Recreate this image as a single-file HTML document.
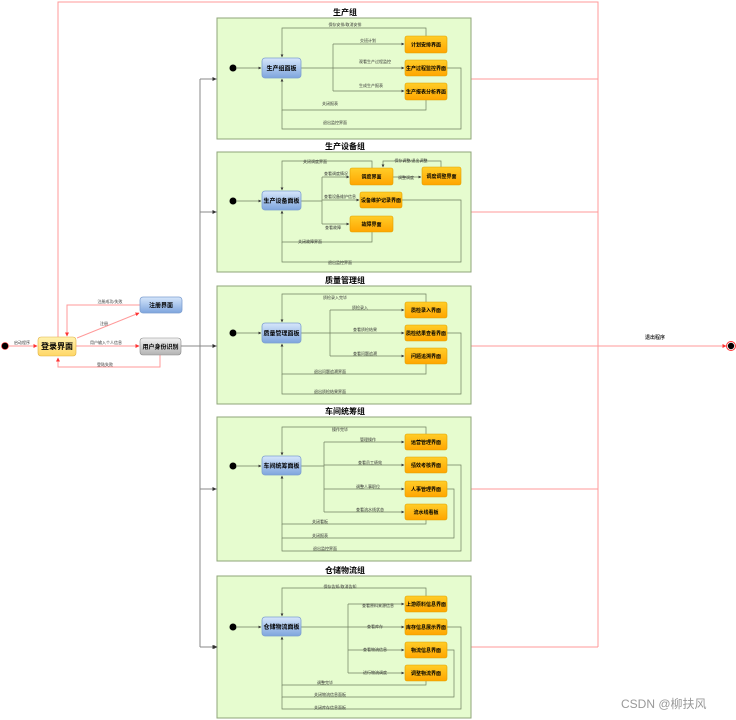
<!DOCTYPE html>
<html><head><meta charset="utf-8"><style>
html,body{margin:0;padding:0;background:#fff}
svg{display:block}
text{font-family:"Liberation Sans","Noto Sans CJK SC",sans-serif}
.g{fill:#e6fccf;stroke:#8fa57a;stroke-width:1}
.t{font-size:8px;font-weight:bold;text-anchor:middle;fill:#000}
.p{fill:url(#bl);stroke:#7e9fd0;stroke-width:.8}
.o{fill:url(#or);stroke:#e0a000;stroke-width:.6}
.pt{font-size:6.5px;font-weight:bold;text-anchor:middle}
.ot{font-size:5px;font-weight:bold;text-anchor:middle}
.l{font-size:4px;text-anchor:middle;fill:#333}
.c{fill:none;stroke:#6f7f60;stroke-width:.7}
.r{fill:none;stroke:#f99;stroke-width:1}
.k{fill:none;stroke:#888;stroke-width:1}
</style></head><body>
<svg width="736" height="720" viewBox="0 0 736 720" xmlns="http://www.w3.org/2000/svg">
<defs>
<linearGradient id="bl" x1="0" y1="0" x2="0" y2="1"><stop offset="0" stop-color="#d6e6fb"/><stop offset="1" stop-color="#7ea5dd"/></linearGradient>
<linearGradient id="or" x1="0" y1="0" x2="0" y2="1"><stop offset="0" stop-color="#ffcd28"/><stop offset="1" stop-color="#ffa500"/></linearGradient>
<linearGradient id="ye" x1="0" y1="0" x2="0" y2="1"><stop offset="0" stop-color="#fff2b0"/><stop offset="1" stop-color="#ffd766"/></linearGradient>
<linearGradient id="gr" x1="0" y1="0" x2="0" y2="1"><stop offset="0" stop-color="#f2f2f2"/><stop offset="1" stop-color="#b3b3b3"/></linearGradient>
<marker id="a" markerWidth="4" markerHeight="4" refX="3.5" refY="2" orient="auto"><path d="M0,0L4,2L0,4z" fill="#333"/></marker>
<marker id="ar" markerWidth="4" markerHeight="4" refX="3.5" refY="2" orient="auto"><path d="M0,0L4,2L0,4z" fill="#f33"/></marker>
</defs>

<!-- red outer lines -->
<path class="r" d="M58,337V2H598V647"/>
<path class="r" d="M471,79H598M471,212H598M471,346H598M471,489H598M471,647H598"/>
<path class="r" d="M598,346H726" marker-end="url(#ar)"/>
<text class="l" x="655" y="339" style="font-size:5px;font-weight:bold">退出程序</text>
<circle cx="731" cy="346" r="4.5" fill="#fff" stroke="#f33" stroke-width="1"/><circle cx="731" cy="346" r="3.2" fill="#000"/>

<!-- groups -->
<rect class="g" x="217" y="18" width="254" height="121"/><text class="t" x="345" y="15">生产组</text>
<rect class="g" x="217" y="152" width="254" height="120"/><text class="t" x="345" y="149">生产设备组</text>
<rect class="g" x="217" y="286" width="254" height="118"/><text class="t" x="345" y="283">质量管理组</text>
<rect class="g" x="217" y="417" width="254" height="144"/><text class="t" x="345" y="414">车间统筹组</text>
<rect class="g" x="217" y="576" width="254" height="142"/><text class="t" x="345" y="573">仓储物流组</text>

<!-- gray dispatch -->
<path class="k" d="M181,346H200"/>
<path class="k" d="M200,79V647"/>
<path class="k" d="M200,79H217M200,212H217M200,346H217M200,489H217M200,647H217" marker-end="url(#a)"/>
<path class="k" d="M200,79H216" marker-end="url(#a)"/><path class="k" d="M200,212H216" marker-end="url(#a)"/><path class="k" d="M200,346H216" marker-end="url(#a)"/><path class="k" d="M200,489H216" marker-end="url(#a)"/><path class="k" d="M200,647H216" marker-end="url(#a)"/>

<!-- login area -->
<circle cx="5" cy="346" r="3.5" fill="#000" stroke="#f33" stroke-width=".6"/>
<path class="r" d="M9,346H37" marker-end="url(#ar)"/><text class="l" x="22" y="344">启动程序</text>
<path class="r" d="M76,346H139" marker-end="url(#ar)"/><text class="l" x="106" y="344">用户输入个人信息</text>
<path class="r" d="M77,338L139,313" marker-end="url(#ar)"/><text class="l" x="104" y="325">注册</text>
<path class="r" d="M140,305H67V336" marker-end="url(#ar)"/><text class="l" x="110" y="303">注册成功/失败</text>
<path class="r" d="M160,355V367H58V358" marker-end="url(#ar)"/><text class="l" x="105" y="366">登陆失败</text>
<rect x="38" y="337" width="38" height="19" rx="3" fill="url(#ye)" stroke="#e0b040" stroke-width=".6"/><text class="pt" x="57" y="349" style="font-size:8px">登录界面</text>
<rect x="140" y="297" width="42" height="16" rx="3" class="p"/><text class="pt" x="161" y="307.5" style="font-size:6px">注册界面</text>
<rect x="140" y="338" width="41" height="17" rx="3" fill="url(#gr)" stroke="#888" stroke-width=".6"/><text class="pt" x="160.5" y="349" style="font-size:6px">用户身份识别</text>

<!-- Group 1 -->
<circle cx="233" cy="68" r="3.5"/>
<path class="c" d="M237,68H261" marker-end="url(#a)"/>
<path class="c" d="M301,68H333M333,44V91"/>
<path class="c" d="M333,44H404" marker-end="url(#a)"/><path class="c" d="M333,68H404" marker-end="url(#a)"/><path class="c" d="M333,91H404" marker-end="url(#a)"/>
<text class="l" x="368" y="42">交班计划</text><text class="l" x="375" y="63">观看生产过程监控</text><text class="l" x="371" y="87">生成生产报表</text>
<path class="c" d="M426,36V28H282V57" marker-end="url(#a)"/><text class="l" x="345" y="26">保存安排/取消安排</text>
<path class="c" d="M426,100V110H282V79" marker-end="url(#a)"/><text class="l" x="330" y="105">关闭报表</text>
<path class="c" d="M447,68H461V129H282V110"/><text class="l" x="335" y="124">退出监控界面</text>
<rect x="262" y="58" width="39" height="20" rx="3" class="p"/><text class="pt" x="281.5" y="70.5" style="font-size:6px">生产组面板</text>
<rect x="405" y="36" width="42" height="17" rx="2" class="o"/><text class="ot" x="426" y="46.5">计划安排界面</text>
<rect x="405" y="60" width="42" height="16" rx="2" class="o"/><text class="ot" x="426" y="70">生产过程监控界面</text>
<rect x="405" y="83" width="42" height="17" rx="2" class="o"/><text class="ot" x="426" y="93.5">生产报表分析界面</text>

<!-- Group 2 -->
<circle cx="233" cy="201" r="3.5"/>
<path class="c" d="M237,201H261" marker-end="url(#a)"/>
<path class="c" d="M301,201H322M322,177V224"/>
<path class="c" d="M322,177H349" marker-end="url(#a)"/><path class="c" d="M322,200H359" marker-end="url(#a)"/><path class="c" d="M322,224H349" marker-end="url(#a)"/>
<text class="l" x="336" y="175">查看调度情况</text><text class="l" x="340" y="198">查看设备维护信息</text><text class="l" x="333" y="229">查看故障</text>
<path class="c" d="M393,177H421" marker-end="url(#a)"/><text class="l" x="406" y="179">调整调度</text>
<path class="c" d="M441,167V161H383V167" marker-end="url(#a)"/><text class="l" x="411" y="162">保存调整/退出调整</text>
<path class="c" d="M372,168V161H282V190" marker-end="url(#a)"/><text class="l" x="315" y="163">关闭调度界面</text>
<path class="c" d="M372,232V242H282V211" marker-end="url(#a)"/><text class="l" x="310" y="243">关闭故障界面</text>
<path class="c" d="M402,200H461V262H282V242"/><text class="l" x="340" y="264">退出监控界面</text>
<rect x="262" y="191" width="39" height="19" rx="3" class="p"/><text class="pt" x="281.5" y="203" style="font-size:6px">生产设备面板</text>
<rect x="350" y="168" width="43" height="17" rx="2" class="o"/><text class="ot" x="371.5" y="178.5">调度界面</text>
<rect x="422" y="167" width="39" height="18" rx="2" class="o"/><text class="ot" x="441.5" y="178">调度调整界面</text>
<rect x="360" y="192" width="42" height="16" rx="2" class="o"/><text class="ot" x="381" y="202">设备维护记录界面</text>
<rect x="350" y="216" width="43" height="16" rx="2" class="o"/><text class="ot" x="371.5" y="226">故障界面</text>

<!-- Group 3 -->
<circle cx="233" cy="333" r="3.5"/>
<path class="c" d="M237,333H261" marker-end="url(#a)"/>
<path class="c" d="M301,333H330M330,310V356"/>
<path class="c" d="M330,310H404" marker-end="url(#a)"/><path class="c" d="M330,333H404" marker-end="url(#a)"/><path class="c" d="M330,356H404" marker-end="url(#a)"/>
<text class="l" x="360" y="309">质检录入</text><text class="l" x="365" y="331">查看质检结果</text><text class="l" x="365" y="355">查看问题追溯</text>
<path class="c" d="M426,302V294H282V322" marker-end="url(#a)"/><text class="l" x="335" y="299">质检录入完毕</text>
<path class="c" d="M426,364V374H282V344" marker-end="url(#a)"/><text class="l" x="330" y="373">退出问题追溯界面</text>
<path class="c" d="M447,333H461V394H282V374"/><text class="l" x="330" y="393">退出质检结果界面</text>
<rect x="262" y="323" width="39" height="20" rx="3" class="p"/><text class="pt" x="281.5" y="335.5" style="font-size:6px">质量管理面板</text>
<rect x="405" y="302" width="42" height="16" rx="2" class="o"/><text class="ot" x="426" y="312">质检录入界面</text>
<rect x="405" y="325" width="42" height="16" rx="2" class="o"/><text class="ot" x="426" y="335">质检结果查看界面</text>
<rect x="405" y="348" width="42" height="16" rx="2" class="o"/><text class="ot" x="426" y="358">问题追溯界面</text>

<!-- Group 4 -->
<circle cx="233" cy="466" r="3.5"/>
<path class="c" d="M237,466H261" marker-end="url(#a)"/>
<path class="c" d="M301,466H324M324,442V512"/>
<path class="c" d="M324,442H404" marker-end="url(#a)"/><path class="c" d="M324,465H404" marker-end="url(#a)"/><path class="c" d="M324,489H404" marker-end="url(#a)"/><path class="c" d="M324,512H404" marker-end="url(#a)"/>
<text class="l" x="368" y="441">管理操作</text><text class="l" x="370" y="464">查看员工绩效</text><text class="l" x="368" y="488">调整人事职位</text><text class="l" x="370" y="511">查看流水线状态</text>
<path class="c" d="M426,434V427H282V455" marker-end="url(#a)"/><text class="l" x="340" y="431">操作完毕</text>
<path class="c" d="M426,520V524H282V476" marker-end="url(#a)"/><text class="l" x="320" y="523">关闭看板</text>
<path class="c" d="M447,489H454V538H282V524"/><text class="l" x="320" y="537">关闭报表</text>
<path class="c" d="M447,465H461V551H282V538"/><text class="l" x="325" y="550">退出监控界面</text>
<rect x="262" y="456" width="39" height="19" rx="3" class="p"/><text class="pt" x="281.5" y="468" style="font-size:6px">车间统筹面板</text>
<rect x="405" y="434" width="42" height="16" rx="2" class="o"/><text class="ot" x="426" y="444">运营管理界面</text>
<rect x="405" y="457" width="42" height="16" rx="2" class="o"/><text class="ot" x="426" y="467">绩效考核界面</text>
<rect x="405" y="481" width="42" height="16" rx="2" class="o"/><text class="ot" x="426" y="491">人事管理界面</text>
<rect x="405" y="504" width="42" height="16" rx="2" class="o"/><text class="ot" x="426" y="514">流水线看板</text>

<!-- Group 5 -->
<circle cx="233" cy="627" r="3.5"/>
<path class="c" d="M237,627H261" marker-end="url(#a)"/>
<path class="c" d="M301,627H348M348,604V673"/>
<path class="c" d="M348,604H404" marker-end="url(#a)"/><path class="c" d="M348,627H404" marker-end="url(#a)"/><path class="c" d="M348,650H404" marker-end="url(#a)"/><path class="c" d="M348,673H404" marker-end="url(#a)"/>
<text class="l" x="378" y="607">查看原料来源信息</text><text class="l" x="375" y="628">查看库存</text><text class="l" x="375" y="651">查看物流信息</text><text class="l" x="375" y="674">进行物流调度</text>
<path class="c" d="M426,596V588H282V616" marker-end="url(#a)"/><text class="l" x="340" y="588">保存告知/取消告知</text>
<path class="c" d="M426,681V685H282V637" marker-end="url(#a)"/><text class="l" x="325" y="684">调整完毕</text>
<path class="c" d="M447,650H454V697H282V685"/><text class="l" x="330" y="696">关闭物流信息面板</text>
<path class="c" d="M447,627H461V709H282V697"/><text class="l" x="330" y="709">关闭库存信息面板</text>
<rect x="262" y="617" width="39" height="19" rx="3" class="p"/><text class="pt" x="281.5" y="629" style="font-size:6px">仓储物流面板</text>
<rect x="405" y="596" width="42" height="16" rx="2" class="o"/><text class="ot" x="426" y="606">上游原料信息界面</text>
<rect x="405" y="619" width="42" height="16" rx="2" class="o"/><text class="ot" x="426" y="629">库存信息展示界面</text>
<rect x="405" y="642" width="42" height="16" rx="2" class="o"/><text class="ot" x="426" y="652">物流信息界面</text>
<rect x="405" y="665" width="42" height="16" rx="2" class="o"/><text class="ot" x="426" y="675">调整物流界面</text>

<text x="621" y="708" style="font-size:12px;fill:#999">CSDN @柳扶风</text>
</svg>
</body></html>
